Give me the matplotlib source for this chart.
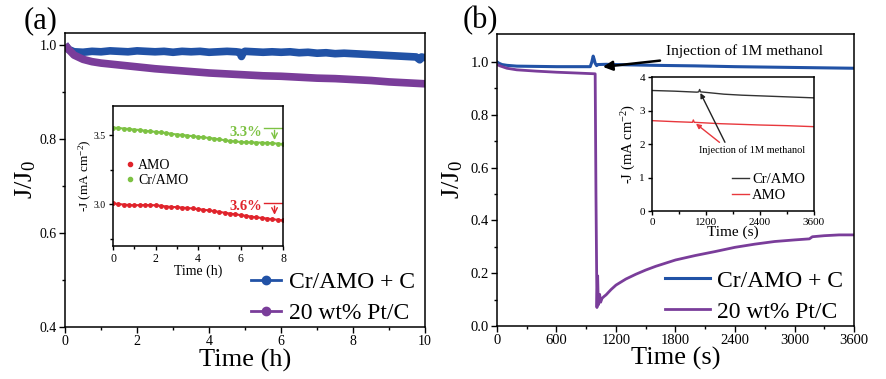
import matplotlib
matplotlib.use("Agg")
import matplotlib.pyplot as plt
from matplotlib.lines import Line2D

plt.rcParams['font.family'] = ['Liberation Serif', 'DejaVu Serif']
plt.rcParams['mathtext.fontset'] = 'custom'
plt.rcParams['mathtext.rm'] = 'Liberation Serif'
plt.rcParams['mathtext.default'] = 'regular'

# ---- panel (a) data ----
ta_blue = [0, 0.1, 0.25, 0.5, 0.75, 1, 1.25, 1.5, 1.75, 2, 2.25, 2.5, 2.75, 3, 3.25, 3.5, 3.75, 4,
           4.25, 4.5, 4.75, 4.85, 4.9, 4.95, 5, 5.25, 5.5, 5.75, 6, 6.25, 6.5, 6.75, 7, 7.25, 7.5,
           7.75, 8, 8.25, 8.5, 8.75, 9, 9.25, 9.5, 9.75, 9.85, 9.9, 9.95, 10]
ja_blue = [1.0, 0.99, 0.985, 0.984, 0.986, 0.985, 0.987, 0.986, 0.985, 0.987, 0.986, 0.985, 0.986,
           0.984, 0.986, 0.985, 0.986, 0.984, 0.985, 0.986, 0.985, 0.984, 0.975, 0.984, 0.986,
           0.985, 0.984, 0.985, 0.984, 0.985, 0.983, 0.984, 0.982, 0.983, 0.981, 0.982, 0.981,
           0.980, 0.979, 0.978, 0.977, 0.976, 0.975, 0.974, 0.968, 0.974, 0.973, 0.973]

ta_pt = [0, 0.1, 0.25, 0.5, 0.75, 1, 1.5, 2, 2.5, 3, 3.5, 4, 4.5, 5, 5.5, 6, 6.5, 7, 7.5, 8,
         8.5, 9, 9.5, 10]
ja_pt = [1.0, 0.99, 0.978, 0.969, 0.964, 0.961, 0.957, 0.953, 0.949, 0.946, 0.943, 0.940, 0.938,
         0.936, 0.934, 0.933, 0.931, 0.929, 0.928, 0.926, 0.924, 0.921, 0.919, 0.917]

# inset (a): -J (mA cm-2) vs time (h)
ti_a = [0, 0.25, 0.5, 0.75, 1, 1.25, 1.5, 1.75, 2, 2.25, 2.5, 2.75, 3, 3.25, 3.5, 3.75, 4,
        4.25, 4.5, 4.75, 5, 5.25, 5.5, 5.75, 6, 6.25, 6.5, 6.75, 7, 7.25, 7.5, 7.75, 8]
j_cramo = [3.555, 3.552, 3.548, 3.545, 3.540, 3.538, 3.532, 3.528, 3.524, 3.520, 3.516, 3.510,
           3.505, 3.502, 3.497, 3.493, 3.488, 3.485, 3.480, 3.476, 3.470, 3.464, 3.458, 3.455,
           3.451, 3.449, 3.448, 3.447, 3.446, 3.444, 3.442, 3.439, 3.436]
j_amo = [3.008, 3.003, 2.999, 2.996, 2.994, 2.995, 2.996, 2.995, 2.994, 2.990, 2.985, 2.982,
         2.980, 2.977, 2.974, 2.971, 2.966, 2.962, 2.957, 2.952, 2.946, 2.940, 2.934, 2.929,
         2.923, 2.918, 2.912, 2.907, 2.902, 2.898, 2.893, 2.889, 2.885]

# ---- panel (b) data ----
tb_blue = [0, 20, 50, 100, 200, 400, 600, 800, 940, 955, 970, 980, 990, 1005, 1020, 1100, 1300,
           1600, 2000, 2400, 2800, 3200, 3600]
jb_blue = [1.0, 0.995, 0.99, 0.987, 0.984, 0.983, 0.982, 0.982, 0.982, 0.998, 1.022, 1.01, 0.995,
           0.986, 0.99, 0.991, 0.989, 0.987, 0.985, 0.982, 0.980, 0.978, 0.976]

tb_pt = [0, 30, 100, 200, 400, 600, 800, 990, 998, 1008, 1015, 1022, 1035, 1045, 1060, 1080, 1100,
         1150, 1200, 1300, 1400, 1500, 1600, 1800, 2000, 2200, 2400, 2600, 2800, 3000, 3150,
         3180, 3300, 3450, 3600]
jb_pt = [0.99, 0.985, 0.976, 0.970, 0.965, 0.961, 0.958, 0.955, 0.5, 0.07, 0.19, 0.08, 0.12,
         0.09, 0.105, 0.112, 0.118, 0.138, 0.155, 0.178, 0.196, 0.212, 0.226, 0.25, 0.267,
         0.282, 0.298, 0.31, 0.32, 0.326, 0.33, 0.338, 0.342, 0.345, 0.345]

# inset (b): -J (mA cm-2) vs time (s)
ti_b_cr = [0, 500, 1000, 1040, 1060, 1080, 1300, 1600, 2000, 2400, 3000, 3600]
j_b_cr = [3.60, 3.58, 3.55, 3.56, 3.63, 3.56, 3.53, 3.49, 3.46, 3.44, 3.41, 3.38]
ti_b_amo = [0, 500, 900, 920, 940, 1500, 2400, 3000, 3600]
j_b_amo = [2.70, 2.67, 2.65, 2.72, 2.65, 2.61, 2.57, 2.55, 2.52]

c_blue = '#2152a6'
c_purple = '#7a3d9a'
c_green = '#7dc243'
c_red = '#e0232b'


def style(ax, size):
    ax.tick_params(direction='out', length=4, width=1, labelsize=size, pad=2)
    ax.tick_params(which='minor', direction='out', length=2.5, width=1)
    ax.tick_params(top=False, right=False)
    for s in ax.spines.values():
        s.set_linewidth(1.1)


fig = plt.figure(figsize=(8.87, 3.79), dpi=100)

# ---------------- (a) ----------------
ax1 = fig.add_axes([0.0733, 0.137, 0.406, 0.776])
ax1.plot(ta_blue, ja_blue, color=c_blue, lw=5.5, solid_capstyle='butt')
ax1.plot(ta_pt, ja_pt, color=c_purple, lw=5.5, solid_capstyle='butt')
ax1.set_xlim(0, 10)
ax1.set_ylim(0.4, 1.025)
ax1.set_xticks([0, 2, 4, 6, 8, 10])
ax1.set_xticks([1, 3, 5, 7, 9], minor=True)
ax1.set_yticks([0.4, 0.6, 0.8, 1.0])
ax1.set_yticks([0.5, 0.7, 0.9], minor=True)
ax1.set_yticklabels(['0.4', '0.6', '0.8', '1.0'])
style(ax1, 10)
ax1.set_xlabel('Time (h)', fontsize=19, labelpad=0)
ax1.set_ylabel('J/J$_0$', fontsize=19, labelpad=1)
hA = [Line2D([], [], color=c_blue, lw=2, marker='o', markersize=6),
      Line2D([], [], color=c_purple, lw=2, marker='o', markersize=6)]
ax1.legend(hA, ['Cr/AMO + C', '20 wt% Pt/C'], loc='lower right', bbox_to_anchor=(1.0, -0.025),
           fontsize=17, frameon=False, handlelength=1.3, handletextpad=0.3,
           borderaxespad=0.05, labelspacing=0.4)
fig.text(0.027, 0.945, '(a)', fontsize=22, va='center')

ins1 = fig.add_axes([0.1274, 0.351, 0.1917, 0.369])
ins1.plot(ti_a, j_amo, color=c_red, lw=1.5, marker='o', markersize=2.5, label='AMO')
ins1.plot(ti_a, j_cramo, color=c_green, lw=1.5, marker='o', markersize=2.5, label='Cr/AMO')
ins1.set_xlim(0, 8)
ins1.set_ylim(2.7, 3.71)
ins1.set_xticks([0, 2, 4, 6, 8])
ins1.set_xticks([1, 3, 5, 7], minor=True)
ins1.set_yticks([3.0, 3.5])
ins1.set_yticks([2.75, 3.25], minor=True)
style(ins1, 8)
ins1.tick_params(labelsize=7, length=3)
ins1.tick_params(axis='x', labelsize=8.5)
ins1.set_xlabel('Time (h)', fontsize=10, labelpad=0)
ins1.set_ylabel('-J (mA cm$^{-2}$)', fontsize=9.5, labelpad=0)
hI = [Line2D([], [], color=c_red, lw=0, marker='o', markersize=3),
      Line2D([], [], color=c_green, lw=0, marker='o', markersize=3)]
ins1.legend(hI, ['AMO', 'Cr/AMO'], loc='center left', bbox_to_anchor=(0.0, 0.52), fontsize=10,
            frameon=False, handlelength=0.6, handletextpad=0.3, labelspacing=0.15)
# percent drop markers
ins1.plot([7.1, 8], [3.555, 3.555], color=c_green, lw=1)
ins1.annotate('', xy=(7.6, 3.445), xytext=(7.6, 3.555),
              arrowprops=dict(arrowstyle='->', color=c_green, lw=1))
ins1.text(7.0, 3.52, '3.3%', color=c_green, fontsize=10.5, fontweight='bold', ha='right', va='center')
ins1.plot([7.1, 8], [3.008, 3.008], color=c_red, lw=1)
ins1.annotate('', xy=(7.6, 2.905), xytext=(7.6, 3.008),
              arrowprops=dict(arrowstyle='->', color=c_red, lw=1))
ins1.text(7.0, 2.985, '3.6%', color=c_red, fontsize=10.5, fontweight='bold', ha='right', va='center')

# ---------------- (b) ----------------
ax2 = fig.add_axes([0.5603, 0.1398, 0.4025, 0.770])
ax2.plot(tb_blue, jb_blue, color=c_blue, lw=2.2, label='Cr/AMO + C')
ax2.plot(tb_pt, jb_pt, color=c_purple, lw=2.0, label='20 wt% Pt/C')
ax2.set_xlim(0, 3600)
ax2.set_ylim(0, 1.105)
ax2.set_xticks([0, 600, 1200, 1800, 2400, 3000, 3600])
ax2.set_xticks([300, 900, 1500, 2100, 2700, 3300], minor=True)
ax2.set_yticks([0.0, 0.2, 0.4, 0.6, 0.8, 1.0])
ax2.set_yticks([0.1, 0.3, 0.5, 0.7, 0.9], minor=True)
ax2.set_yticklabels(['0.0', '0.2', '0.4', '0.6', '0.8', '1.0'])
style(ax2, 10.5)
ax2.set_xlabel('Time (s)', fontsize=19, labelpad=0)
ax2.set_ylabel('J/J$_0$', fontsize=19, labelpad=4)
ax2.legend(loc='lower right', bbox_to_anchor=(1.0, -0.025), fontsize=17, frameon=False,
           handlelength=1.9, handletextpad=0.3, borderaxespad=0.05, labelspacing=0.4)
ax2.annotate('Injection of 1M methanol', xy=(1040, 0.98), xytext=(1700, 1.04),
             fontsize=11, va='center',
             arrowprops=dict(arrowstyle='-|>', color='black', lw=1.8, mutation_scale=14))
fig.text(0.522, 0.945, '(b)', fontsize=22, va='center')

ins2 = fig.add_axes([0.735, 0.443, 0.1826, 0.3536])
ins2.plot(ti_b_cr, j_b_cr, color='#333333', lw=1, label='Cr/AMO')
ins2.plot(ti_b_amo, j_b_amo, color='#e8383d', lw=1, label='AMO')
ins2.set_xlim(0, 3600)
ins2.set_ylim(0, 4)
ins2.set_xticks([0, 1200, 2400, 3600])
ins2.set_xticks([600, 1800, 3000], minor=True)
ins2.set_yticks([0, 1, 2, 3, 4])
style(ins2, 8)
ins2.tick_params(length=3)
ins2.set_xlabel('Time (s)', fontsize=11, labelpad=-1)
ins2.set_ylabel('-J (mA cm$^{-2}$)', fontsize=10.5, labelpad=1)
ins2.legend(loc='lower right', fontsize=10.5, frameon=False, handlelength=1.2,
            handletextpad=0.2, borderaxespad=0.2, labelspacing=0.2)
ins2.text(2230, 1.82, 'Injection of 1M methanol', fontsize=7.5, ha='center', va='center')
ins2.annotate('', xy=(1050, 3.6), xytext=(1650, 1.98),
              arrowprops=dict(arrowstyle='-|>', color='#222222', lw=1, mutation_scale=7))
ins2.annotate('', xy=(930, 2.66), xytext=(1550, 2.0),
              arrowprops=dict(arrowstyle='-|>', color='#e8383d', lw=1, mutation_scale=7))

fig.savefig('out.png', dpi=100)
